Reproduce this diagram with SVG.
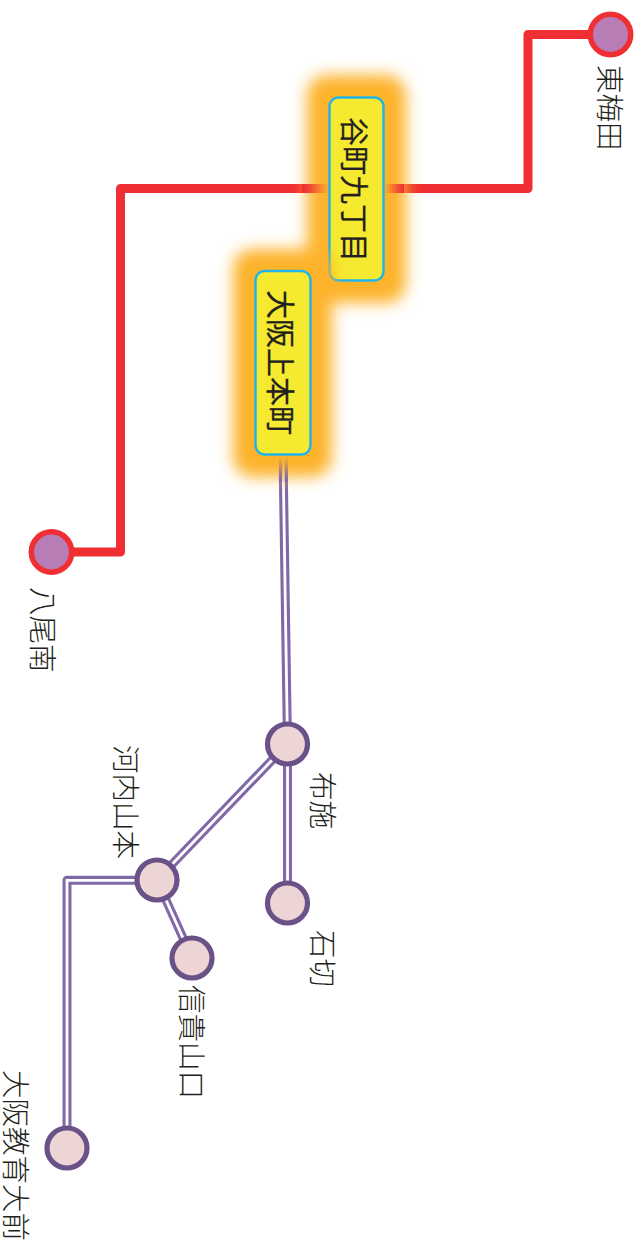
<svg xmlns="http://www.w3.org/2000/svg" width="641" height="1245" viewBox="0 0 641 1245">
<style>
.lbl{font-family:"Noto Sans CJK JP","Noto Sans CJK SC",sans-serif;font-size:28.5px;font-weight:300;fill:#231f20}
.hl{font-size:29px;font-weight:400;fill:#231f20;stroke:#231f20;stroke-width:.25}
.red{fill:none;stroke:#ef2f33;stroke-width:9;stroke-linejoin:round}
.po{fill:none;stroke:#8168a8;stroke-width:9;stroke-linejoin:round}
.pi{fill:none;stroke:#fff;stroke-width:2.800;stroke-linejoin:miter}
.st1{fill:#b87db5;stroke:#ef2f33;stroke-width:5.500}
.st2{fill:#edd5d5;stroke:#6a5289;stroke-width:5.200}
.box{fill:#f5ea2f;stroke:#1fb5e8;stroke-width:2.500}
.glow{fill:#fdb32a;filter:url(#b)}
</style>
<defs>
<filter id="b" x="-40%" y="-30%" width="180%" height="160%"><feGaussianBlur stdDeviation="7.500"/></filter>
<linearGradient id="rl" x1="0" x2="1" y1="0" y2="0"><stop offset="0" stop-color="#ef2f33"/><stop offset="1" stop-color="#ef2f33" stop-opacity="0"/></linearGradient>
<linearGradient id="rr" x1="0" x2="1" y1="0" y2="0"><stop offset="0" stop-color="#ef2f33" stop-opacity="0"/><stop offset="1" stop-color="#ef2f33"/></linearGradient>
<linearGradient id="pd" x1="0" x2="0" y1="0" y2="1"><stop offset="0" stop-color="#8168a8" stop-opacity="0"/><stop offset="1" stop-color="#8168a8"/></linearGradient>
</defs>
<g id="connectors">
<path class="red" d="M610 34.500H528V188.500H120.500V552H51"/>
<path class="po" d="M283 455L287.500 744"/><path class="pi" d="M283 455L287.500 744"/>
<path class="po" d="M287.500 744V903"/><path class="pi" d="M287.500 744V903"/>
<path class="po" d="M287.500 744L157 880"/><path class="pi" d="M287.500 744L157 880"/>
<path class="po" d="M157 880L192 958"/><path class="pi" d="M157 880L192 958"/>
<path class="po" d="M157 880.300H67V1148"/><path class="pi" d="M157 880.300H67V1148"/>
</g>
<g id="higashi-umeda"><circle class="st1" cx="610.500" cy="34.500" r="20.200"/><text class="lbl" transform="translate(599 65) rotate(90)">東梅田</text></g>
<g id="tanimachi"><rect class="glow" x="307" y="75" width="99" height="228" rx="20"/><rect x="302" y="184" width="27" height="9" fill="url(#rl)"/><rect x="384" y="184" width="20" height="9" fill="url(#rr)"/><rect class="box" x="329.500" y="97.500" width="54" height="183" rx="9"/><text class="hl lbl" transform="translate(343 117) rotate(90)">谷町九丁目</text></g>
<g id="osaka-uehommachi"><rect class="glow" x="233" y="249" width="99" height="228" rx="20"/><rect x="279" y="456" width="3.200" height="26" fill="url(#pd)"/><rect x="284.800" y="456" width="3.200" height="26" fill="url(#pd)"/><rect class="box" x="255.500" y="271" width="55" height="183.500" rx="9"/><text class="hl lbl" transform="translate(269 290) rotate(90)">大阪上本町</text></g>
<g id="yao-minami"><circle class="st1" cx="51.500" cy="552" r="20.200"/><text class="lbl" transform="translate(32 587) rotate(90)">八尾南</text></g>
<g id="fuse"><circle class="st2" cx="287.500" cy="744" r="20"/><text class="lbl" transform="translate(312 772) rotate(90)">布施</text></g>
<g id="ishikiri"><circle class="st2" cx="287.500" cy="903" r="20"/><text class="lbl" transform="translate(312 930) rotate(90)">石切</text></g>
<g id="kawachi-yamamoto"><circle class="st2" cx="157" cy="880" r="20"/><text class="lbl" transform="translate(115 745) rotate(90)">河内山本</text></g>
<g id="shigisanguchi"><circle class="st2" cx="192" cy="958" r="20"/><text class="lbl" transform="translate(181 985) rotate(90)">信貴山口</text></g>
<g id="osaka-kyoikudaimae"><circle class="st2" cx="67" cy="1148" r="20"/><text class="lbl" transform="translate(5 1070) rotate(90)">大阪教育大前</text></g>
</svg>
